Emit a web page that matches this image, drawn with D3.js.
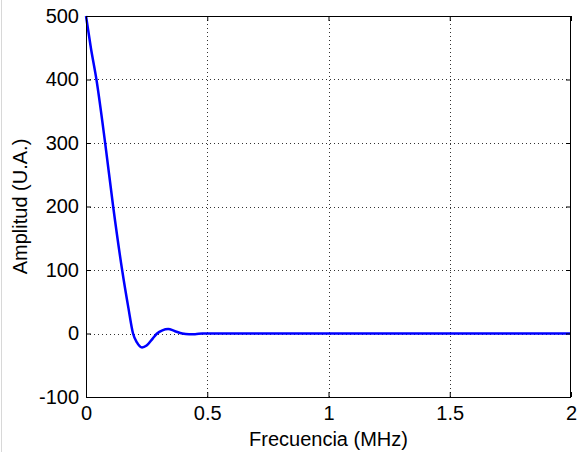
<!DOCTYPE html>
<html>
<head>
<meta charset="utf-8">
<script src="https://cdn.jsdelivr.net/npm/d3@7"></script>
<style>
  body { margin: 0; background: #fff; }
  svg { display: block; font-family: "Liberation Sans", Arial, sans-serif; }
</style>
</head>
<body>
<div id="chart"></div>
<script>
// frequency (MHz) and amplitude (U.A.)
var freq = [0, 0.02, 0.043, 0.079, 0.112, 0.149, 0.175, 0.194, 0.21, 0.231, 0.25, 0.275, 0.293, 0.315, 0.339, 0.365, 0.397, 0.425, 0.45, 0.48, 0.5, 1, 1.5, 2]
var amp  = [500, 450, 400, 300, 200, 100, 40, 0, -14, -22, -19, -8, 0, 5, 7, 4, 0, -1, -1, 0, 0, 0, 0, 0]
var xTicks = [0, 0.5, 1, 1.5, 2]
var yTicks = [-100, 0, 100, 200, 300, 400, 500]

var width = 583, height = 459
var margin = {top: 16, right: 12, bottom: 62, left: 86}
var chartWidth = width - margin.left - margin.right
var chartHeight = height - margin.top - margin.bottom
var fontSize = "20px"

var svg = d3.select("#chart").append("svg")
    .attr("width", width).attr("height", height)

// thin frame on the left edge of the picture
svg.append("line").attr("x1", 1.5).attr("x2", 1.5).attr("y1", 0).attr("y2", 452)
    .attr("stroke", "#d8d8d8").attr("stroke-width", 1)

var g = svg.append("g").attr("transform", "translate(" + [margin.left, margin.top] + ")")

var xScale = d3.scaleLinear().domain([0, 2]).range([0, chartWidth])
var yScale = d3.scaleLinear().domain([-100, 500]).range([chartHeight, 0])

// dotted grid
g.append("g").selectAll("line").data(xTicks.slice(1, -1)).enter().append("line")
    .attr("x1", function (d) { return Math.round(xScale(d)) + 0.5 })
    .attr("x2", function (d) { return Math.round(xScale(d)) + 0.5 })
    .attr("y1", 0).attr("y2", chartHeight)
    .attr("stroke", "#333").attr("stroke-dasharray", "1,3")
g.append("g").selectAll("line").data(yTicks.slice(1, -1)).enter().append("line")
    .attr("y1", function (d) { return Math.round(yScale(d)) + 0.5 })
    .attr("y2", function (d) { return Math.round(yScale(d)) + 0.5 })
    .attr("x1", 0).attr("x2", chartWidth)
    .attr("stroke", "#333").attr("stroke-dasharray", "1,3")

// the curve
var line = d3.line()
    .x(function (d, i) { return xScale(freq[i]) })
    .y(function (d) { return yScale(d) })
    .curve(d3.curveMonotoneX)

g.append("path").datum(amp)
    .attr("d", line)
    .attr("fill", "none")
    .attr("stroke", "#0000ff")
    .attr("stroke-width", 2.5)
    .attr("stroke-linejoin", "round")

// axes, MATLAB style ticks pointing inward on all four sides
function styleAxis(sel) {
    sel.select(".domain").remove()
    sel.selectAll(".tick line").attr("stroke", "#000")
    sel.selectAll(".tick text").attr("fill", "#000").style("font-size", fontSize)
}
function plain(d) { return String(d) }

g.append("g").attr("class", "axis x")
    .attr("transform", "translate(0," + chartHeight + ")")
    .call(d3.axisBottom(xScale).tickValues(xTicks).tickFormat(plain).tickSizeInner(-5).tickPadding(9))
    .call(styleAxis)
g.append("g")
    .call(d3.axisTop(xScale).tickValues(xTicks).tickFormat("").tickSizeInner(-5))
    .call(styleAxis)
g.append("g").attr("class", "axis y")
    .call(d3.axisLeft(yScale).tickValues(yTicks).tickFormat(plain).tickSizeInner(-5).tickPadding(7))
    .call(styleAxis)
g.append("g").attr("transform", "translate(" + chartWidth + ",0)")
    .call(d3.axisRight(yScale).tickValues(yTicks).tickFormat("").tickSizeInner(-5))
    .call(styleAxis)

g.append("rect").attr("x", 0.5).attr("y", 0.5)
    .attr("width", chartWidth - 1).attr("height", chartHeight)
    .attr("fill", "none").attr("stroke", "#000").attr("stroke-width", 1)

// axis titles
svg.append("text")
    .attr("x", margin.left + chartWidth / 2).attr("y", 446)
    .attr("text-anchor", "middle").style("font-size", fontSize)
    .text("Frecuencia (MHz)")
svg.append("text")
    .attr("transform", "translate(27," + (margin.top + chartHeight / 2) + ") rotate(-90)")
    .attr("text-anchor", "middle").style("font-size", fontSize)
    .text("Amplitud (U.A.)")
</script>
</body>
</html>
